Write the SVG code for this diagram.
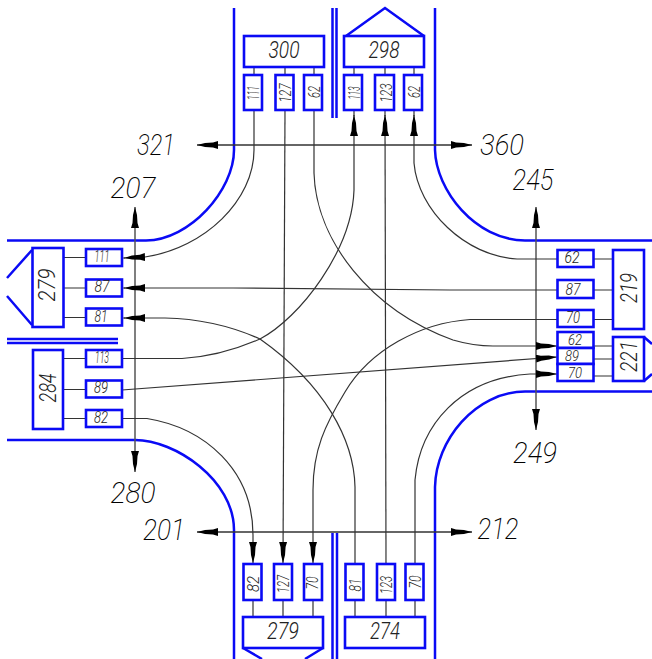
<svg xmlns="http://www.w3.org/2000/svg" width="652" height="659" viewBox="0 0 652 659">
<style>
.r{fill:none;stroke:#0a0af5;stroke-width:2.5}
.b{fill:#fff;stroke:#0a0af5;stroke-width:2.6}
.l{fill:none;stroke:#333;stroke-width:1.2}
.a{fill:none;stroke:#333;stroke-width:1.2;marker-end:url(#ah)}
.g{fill:none;stroke:#555;stroke-width:1.5;marker-start:url(#ah);marker-end:url(#ah)}
.h{fill:none;stroke:#333;stroke-width:1.3;marker-start:url(#ah);marker-end:url(#ah)}
text{font-family:"Roboto","Liberation Sans",sans-serif;font-style:italic;font-weight:300;fill:#222;text-anchor:middle}
.big{font-size:30px;font-weight:200;fill:#000}
.mid{font-size:23px}
.sm{font-size:16px}
.xs{font-size:14px}
</style>
<defs>
<marker id="ah" markerUnits="userSpaceOnUse" markerWidth="24" markerHeight="10" refX="21" refY="4" orient="auto-start-reverse">
<path d="M0 0L5 1.500L13 2L21 4L13 6L5 6.500L0 8Z" fill="#000"/>
</marker>
</defs>
<g id="roads">
<path class="r" d="M234 8V150C234 190 190 240 146 240.500H7"/>
<path class="r" d="M435 8V150C436 190 475 240 525 240.500H652"/>
<path class="r" d="M7 440H135C175 440 234 480 234 530V659"/>
<path class="r" d="M435 659V487C436 440 475 392 525 391.500H652"/>
<path class="r" d="M332.500 8V118M336.500 8V118"/>
<path class="r" d="M332.500 533V659M337 533V659"/>
<path class="r" d="M7 339H118M7 343H118"/>
</g>
<g id="connectors">
<path class="g" d="M135 207V472"/>
<path class="g" d="M536 207V430"/>
<path class="h" d="M197 145H472"/>
<path class="h" d="M197 532H472"/>
<path class="l" d="M254 67V75M285 67V75M314 67V75M354 67V75M385 67V75M414 67V75"/>
<path class="l" d="M253 600V617M283 600V617M313 600V617M355 600V617M386 600V617M415 600V617"/>
<path class="l" d="M63 257.500H86M63 288H86M63 317.500H86M63 358.500H86M63 389.500H86M63 418.500H86"/>
<path class="l" d="M593 259H613M593 290H613M593 319.500H613M593 346H613M593 359H613M593 376H613"/>
<path class="l" d="M354 110V116M385 110V116M414 110V116M122 258H125M122 288H125M122 318H125"/>
<path class="a" d="M254 110V150C254 200 205 248 145 257L124 258"/>
<path class="a" d="M285 110L283 563"/>
<path class="a" d="M314 110V173C316 240 370 310 453 340C470 345 480 346 493 346H557"/>
<path class="a" d="M122 358.500H182C210 357 235 350 260 339C300 318 352 250 354 190V115"/>
<path class="a" d="M386 564L385 115"/>
<path class="a" d="M557 259H517C465 256 418 210 414 163V115"/>
<path class="a" d="M557 290H450L233 288H124"/>
<path class="a" d="M557 319.500H470C420 323 370 350 345 392C325 425 313 450 313 490V563"/>
<path class="a" d="M355 564V487C354 440 325 385 260 339C240 330 210 319 165 318H124"/>
<path class="a" d="M122 390L557 357"/>
<path class="a" d="M122 418.500H147C205 428 253 470 253 535V563"/>
<path class="a" d="M415 564V480C420 425 460 378 530 374H557"/>
</g>
<g id="n300"><rect class="b" x="244" y="36" width="80" height="31"/><text class="mid" x="284" y="58" textLength="31" lengthAdjust="spacingAndGlyphs">300</text></g>
<g id="n298"><path class="r" d="M346 36L385 8L424 36"/><rect class="b" x="344" y="36" width="80" height="31"/><text class="mid" x="384" y="58" textLength="31" lengthAdjust="spacingAndGlyphs">298</text></g>
<g id="t111"><rect class="b" x="244" y="75" width="18" height="35"/><text class="sm" transform="translate(259 93) rotate(-90)" textLength="14" lengthAdjust="spacingAndGlyphs">111</text></g>
<g id="t127"><rect class="b" x="275.500" y="75" width="18" height="35"/><text class="sm" transform="translate(291 93) rotate(-90)" textLength="19" lengthAdjust="spacingAndGlyphs">127</text></g>
<g id="t62"><rect class="b" x="304" y="75" width="18" height="35"/><text class="sm" transform="translate(320 92) rotate(-90)" textLength="12" lengthAdjust="spacingAndGlyphs">62</text></g>
<g id="t113"><rect class="b" x="344" y="75" width="18" height="35"/><text class="sm" transform="translate(360 93) rotate(-90)" textLength="13" lengthAdjust="spacingAndGlyphs">113</text></g>
<g id="t123"><rect class="b" x="375" y="75" width="19" height="35"/><text class="sm" transform="translate(392 93) rotate(-90)" textLength="19" lengthAdjust="spacingAndGlyphs">123</text></g>
<g id="t62b"><rect class="b" x="404" y="75" width="18" height="35"/><text class="sm" transform="translate(420 92) rotate(-90)" textLength="12" lengthAdjust="spacingAndGlyphs">62</text></g>
<g id="n279l"><path class="r" d="M32 250L7 278M7 296L32 325"/><rect class="b" x="32.500" y="248" width="31" height="79"/><text class="mid" transform="translate(55 285) rotate(-90)" textLength="33" lengthAdjust="spacingAndGlyphs">279</text></g>
<g id="l111"><rect class="b" x="86" y="249" width="36" height="17"/><text class="sm" x="102" y="262" textLength="15" lengthAdjust="spacingAndGlyphs">111</text></g>
<g id="l87"><rect class="b" x="86" y="279.500" width="36" height="17"/><text class="sm" x="102" y="292" textLength="15" lengthAdjust="spacingAndGlyphs">87</text></g>
<g id="l81"><rect class="b" x="86" y="308.500" width="36" height="17"/><text class="sm" x="101" y="322" textLength="13" lengthAdjust="spacingAndGlyphs">81</text></g>
<g id="n284"><rect class="b" x="33" y="350" width="30" height="79"/><text class="mid" transform="translate(56 388) rotate(-90)" textLength="29" lengthAdjust="spacingAndGlyphs">284</text></g>
<g id="l113"><rect class="b" x="86" y="350" width="36" height="17"/><text class="sm" x="102" y="363" textLength="14" lengthAdjust="spacingAndGlyphs">113</text></g>
<g id="l89"><rect class="b" x="86" y="380.500" width="36" height="17"/><text class="sm" x="101" y="393" textLength="14" lengthAdjust="spacingAndGlyphs">89</text></g>
<g id="l82"><rect class="b" x="86" y="410" width="36" height="17"/><text class="sm" x="101" y="423" textLength="14" lengthAdjust="spacingAndGlyphs">82</text></g>
<g id="n219"><rect class="b" x="613" y="250" width="31" height="79"/><text class="mid" transform="translate(637 288) rotate(-90)" textLength="30" lengthAdjust="spacingAndGlyphs">219</text></g>
<g id="r62"><rect class="b" x="557.500" y="250" width="36" height="17"/><text class="sm" x="572" y="263" textLength="15" lengthAdjust="spacingAndGlyphs">62</text></g>
<g id="r87"><rect class="b" x="557.500" y="280" width="36" height="18"/><text class="sm" x="573" y="295" textLength="15" lengthAdjust="spacingAndGlyphs">87</text></g>
<g id="r70"><rect class="b" x="557.500" y="310" width="36" height="17"/><text class="sm" x="573" y="323" textLength="14" lengthAdjust="spacingAndGlyphs">70</text></g>
<g id="n221"><path class="r" d="M644 337L652 344M652 374L644 381"/><rect class="b" x="613" y="337" width="31" height="44"/><text class="mid" transform="translate(637 356.500) rotate(-90)" textLength="31" lengthAdjust="spacingAndGlyphs">221</text></g>
<g id="r62b"><rect class="b" x="557.500" y="332" width="36" height="16"/><text class="xs" x="575" y="345" textLength="14" lengthAdjust="spacingAndGlyphs">62</text></g>
<g id="r89"><rect class="b" x="557.500" y="348" width="36" height="16"/><text class="xs" x="572" y="361" textLength="14" lengthAdjust="spacingAndGlyphs">89</text></g>
<g id="r70b"><rect class="b" x="557.500" y="364" width="36" height="17"/><text class="xs" x="575" y="378" textLength="14" lengthAdjust="spacingAndGlyphs">70</text></g>
<g id="n279b"><path class="r" d="M243 648L262 659M323 648L305 659"/><rect class="b" x="243" y="617" width="80" height="31"/><text class="mid" x="283" y="639" textLength="32" lengthAdjust="spacingAndGlyphs">279</text></g>
<g id="n274"><rect class="b" x="345" y="617" width="80" height="31"/><text class="mid" x="385" y="639" textLength="30" lengthAdjust="spacingAndGlyphs">274</text></g>
<g id="b82"><rect class="b" x="243.500" y="564" width="18" height="36"/><text class="sm" transform="translate(259 584) rotate(-90)" textLength="16" lengthAdjust="spacingAndGlyphs">82</text></g>
<g id="b127"><rect class="b" x="274" y="564" width="18" height="36"/><text class="sm" transform="translate(289 584) rotate(-90)" textLength="18" lengthAdjust="spacingAndGlyphs">127</text></g>
<g id="b70"><rect class="b" x="304" y="564" width="18" height="36"/><text class="sm" transform="translate(318 583) rotate(-90)" textLength="13" lengthAdjust="spacingAndGlyphs">70</text></g>
<g id="b81"><rect class="b" x="345.500" y="564" width="18" height="36"/><text class="sm" transform="translate(361 585) rotate(-90)" textLength="13" lengthAdjust="spacingAndGlyphs">81</text></g>
<g id="b123"><rect class="b" x="377" y="564" width="18" height="36"/><text class="sm" transform="translate(392 585) rotate(-90)" textLength="18" lengthAdjust="spacingAndGlyphs">123</text></g>
<g id="b70b"><rect class="b" x="405.500" y="564" width="18" height="36"/><text class="sm" transform="translate(421 582) rotate(-90)" textLength="13" lengthAdjust="spacingAndGlyphs">70</text></g>
<g id="labels">
<text class="big" x="156" y="155" textLength="38" lengthAdjust="spacingAndGlyphs">321</text>
<text class="big" x="502" y="155" textLength="44" lengthAdjust="spacingAndGlyphs">360</text>
<text class="big" x="133" y="198" textLength="45" lengthAdjust="spacingAndGlyphs">207</text>
<text class="big" x="533" y="190" textLength="41" lengthAdjust="spacingAndGlyphs">245</text>
<text class="big" x="535" y="463" textLength="44" lengthAdjust="spacingAndGlyphs">249</text>
<text class="big" x="133" y="503" textLength="45" lengthAdjust="spacingAndGlyphs">280</text>
<text class="big" x="164" y="540" textLength="42" lengthAdjust="spacingAndGlyphs">201</text>
<text class="big" x="498" y="539" textLength="41" lengthAdjust="spacingAndGlyphs">212</text>
</g>
</svg>
